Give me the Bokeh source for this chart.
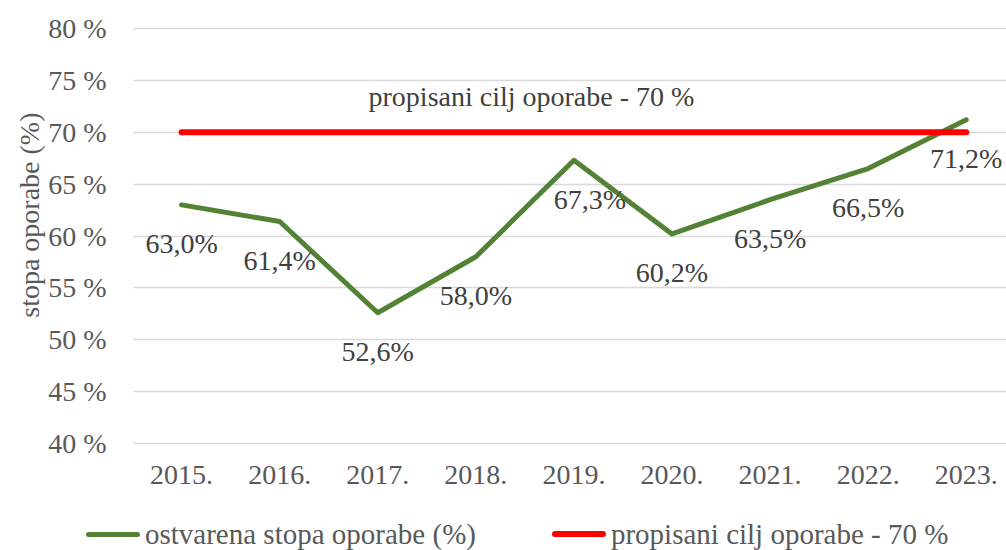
from bokeh.plotting import figure
from bokeh.layouts import column
from bokeh.models import (Range1d, FixedTicker, Label, ColumnDataSource, Title, Div)
from bokeh.core.properties import value
from bokeh.embed import file_html
from bokeh.resources import INLINE

# ---- data ----
years = ["2015.", "2016.", "2017.", "2018.", "2019.", "2020.", "2021.", "2022.", "2023."]
rate = [63.0, 61.4, 52.6, 58.0, 67.3, 60.2, 63.5, 66.5, 71.2]
target = [70, 70, 70, 70, 70, 70, 70, 70, 70]
rate_labels = ["63,0%", "61,4%", "52,6%", "58,0%", "67,3%", "60,2%", "63,5%", "66,5%", "71,2%"]
y_ticks = [40, 45, 50, 55, 60, 65, 70, 75, 80]
y_tick_labels = ["40 %", "45 %", "50 %", "55 %", "60 %", "65 %", "70 %", "75 %", "80 %"]
series_names = ["ostvarena stopa oporabe (%)", "propisani cilj oporabe - 70 %"]
target_text = "propisani cilj oporabe - 70 %"
axis_title = "stopa oporabe (%)"

FONT = "Liberation Serif"
GREEN = "#548235"
RED = "#FF0000"

xs = list(range(len(years)))
label_dx = [0, 0, 0, 0, 16, 0, 0, 0, 0]

p = figure(width=1006, height=508, output_backend="svg", toolbar_location=None,
           x_range=Range1d(-0.49, 8.41), y_range=Range1d(39.9, 80.1),
           min_border_left=133, min_border_right=0, min_border_top=27,
           min_border_bottom=64, frame_width=873, frame_height=417)
p.outline_line_color = None
p.background_fill_color = "white"
p.border_fill_color = "white"

# axes
p.xaxis.ticker = FixedTicker(ticks=xs)
p.xaxis.major_label_overrides = {i: y for i, y in enumerate(years)}
p.yaxis.ticker = FixedTicker(ticks=y_ticks)
p.yaxis.major_label_overrides = {t: l for t, l in zip(y_ticks, y_tick_labels)}
for ax in (p.xaxis[0], p.yaxis[0]):
    ax.axis_line_color = None
    ax.major_tick_line_color = None
    ax.minor_tick_line_color = None
    ax.major_tick_out = 0
    ax.major_tick_in = 0
    ax.minor_tick_out = 0
    ax.minor_tick_in = 0
    ax.major_label_text_font = FONT
    ax.major_label_text_font_size = "28px"
    ax.major_label_text_color = "#595959"
p.xaxis.major_label_standoff = 21
p.yaxis.major_label_standoff = 27

p.xgrid.grid_line_color = None
p.ygrid.grid_line_color = "#D9D9D9"
p.ygrid.grid_line_width = 1.3

src = ColumnDataSource(dict(x=xs, y=rate, lab=rate_labels, dx=label_dx, t=target))

g = p.line("x", "y", source=src, line_color=GREEN, line_width=5,
           line_join="round", line_cap="round")
r = p.line("x", "t", source=src, line_color=RED, line_width=6, line_cap="round")

p.text("x", "y", text="lab", source=src, x_offset="dx", y_offset=39,
       text_align="center", text_baseline="alphabetic",
       text_font=value(FONT), text_font_size="28px", text_color="#404040")

p.add_layout(Label(x=3.567, y=73.45, text=target_text, text_align="center",
                   text_baseline="alphabetic", text_font=FONT,
                   text_font_size="28px", text_color="#404040"))

# vertical axis title, placed in the left panel
t = Title(text=axis_title, align="right", offset=85, standoff=2,
          text_font=FONT, text_font_size="28px", text_color="#595959",
          text_font_style="normal")
p.add_layout(t, "left")

# ---- legend strip (HTML so it can sit left of the plot frame) ----
def swatch(color, h):
    return (f'<span style="display:inline-block;width:54px;height:{h}px;'
            f'background:{color};border-radius:3px;"></span>')

legend_html = (
    f'<div style="position:relative;width:1006px;height:42px;">'
    f'<div style="position:absolute;left:86px;top:10px;height:32px;display:flex;'
    f'align-items:center;white-space:nowrap;font-family:\'{FONT}\';font-size:29px;'
    f'line-height:32px;color:#595959;">'
    f'{swatch(GREEN, 5)}<span style="margin-left:5px;">{series_names[0]}</span>'
    f'<span style="display:inline-block;width:76px;"></span>'
    f'{swatch(RED, 6)}<span style="margin-left:5px;">{series_names[1]}</span>'
    f'</div></div>'
)
leg = Div(text=legend_html, width=1006, height=42, margin=(0, 0, 0, 0))

layout = column(p, leg, spacing=0)
open("out.html", "w").write(file_html(layout, INLINE))
